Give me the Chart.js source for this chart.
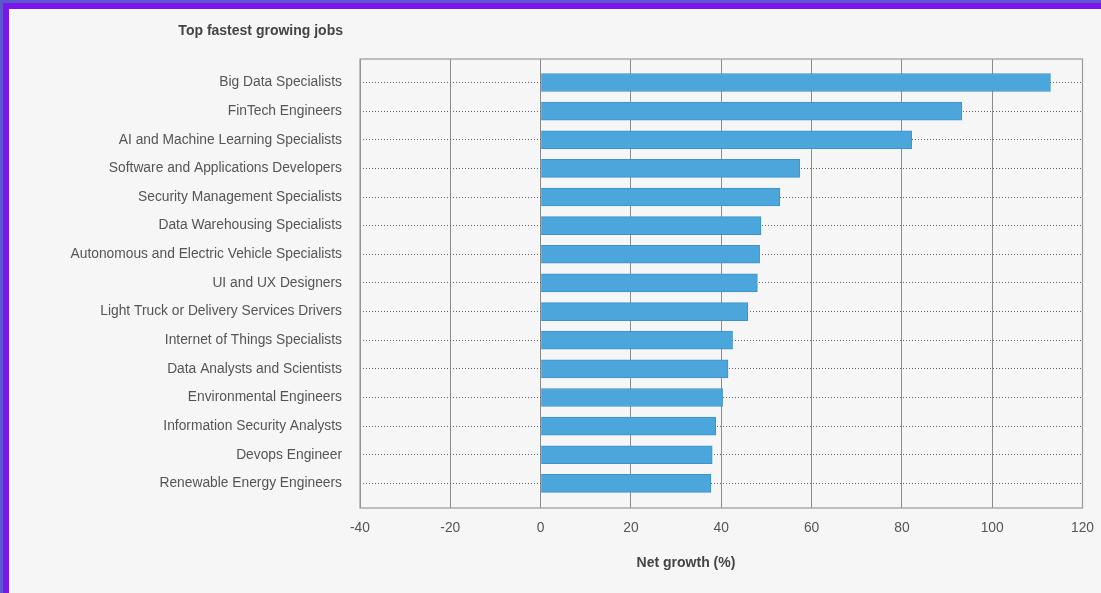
<!DOCTYPE html>
<html>
<head>
<meta charset="utf-8">
<script src="https://cdn.jsdelivr.net/npm/chart.js@4/dist/chart.umd.min.js"></script>
<style>
  html, body { margin: 0; padding: 0; }
  body { width: 1101px; height: 593px; overflow: hidden; background: #5b58cf; position: relative; }
  #frame { position: absolute; left: 3px; top: 3px; right: 0; bottom: 0; background: #7a16e9; }
  #wrap { position: absolute; left: 9px; top: 9px; width: 1092px; height: 584px; background: #f6f6f6; }
  canvas { display: block; }
</style>
</head>
<body>
<div id="frame"></div>
<div id="wrap"><canvas id="c" width="1092" height="584"></canvas></div>
<script>
const chartTitle = 'Top fastest growing jobs';
const xAxisTitle = 'Net growth (%)';
const categories = [
  'Big Data Specialists',
  'FinTech Engineers',
  'AI and Machine Learning Specialists',
  'Software and Applications Developers',
  'Security Management Specialists',
  'Data Warehousing Specialists',
  'Autonomous and Electric Vehicle Specialists',
  'UI and UX Designers',
  'Light Truck or Delivery Services Drivers',
  'Internet of Things Specialists',
  'Data Analysts and Scientists',
  'Environmental Engineers',
  'Information Security Analysts',
  'Devops Engineer',
  'Renewable Energy Engineers'
];
const netGrowth = [112.9, 93.3, 82.2, 57.4, 53.0, 48.8, 48.5, 48.0, 45.9, 42.5, 41.5, 40.3, 38.8, 38.0, 37.7];
const xTicks = [-40, -20, 0, 20, 40, 60, 80, 100, 120];

const FONT = '"Liberation Sans", Arial, Helvetica, sans-serif';

const decor = {
  id: 'decor',
  beforeDatasetsDraw(chart) {
    const {ctx, chartArea: a} = chart;
    ctx.save();
    ctx.strokeStyle = '#9a9a9a';
    ctx.lineWidth = 1.2;
    ctx.strokeRect(a.left, a.top, a.right - a.left, a.bottom - a.top);
    ctx.restore();
  },
  afterDraw(chart) {
    const {ctx, chartArea: a} = chart;
    ctx.save();
    ctx.fillStyle = '#444';
    ctx.font = 'bold 14px ' + FONT;
    ctx.textBaseline = 'middle';
    ctx.textAlign = 'right';
    ctx.fillText(chartTitle, a.left - 17, 22);
    ctx.textAlign = 'center';
    ctx.fillText(xAxisTitle, 677, 554);
    ctx.restore();
  }
};

new Chart(document.getElementById('c'), {
  type: 'bar',
  data: {
    datasets: [{
      data: netGrowth.map((v, i) => ({x: v, y: i})),
      backgroundColor: '#4aa6db',
      borderColor: '#3b93c9',
      borderWidth: 1,
      barThickness: 18
    }]
  },
  options: {
    indexAxis: 'y',
    responsive: false,
    animation: false,
    layout: { padding: { top: 50, right: 18.5, bottom: 0, left: 0 } },
    plugins: { legend: { display: false }, tooltip: { enabled: false }, title: { display: false } },
    scales: {
      x: {
        type: 'linear',
        min: xTicks[0],
        max: xTicks[xTicks.length - 1],
        afterBuildTicks: s => { s.ticks = xTicks.map(v => ({value: v})); },
        afterFit: s => { s.height = 85; s.paddingLeft = 0; s.paddingRight = 0; },
        grid: { color: '#8c8c8c', lineWidth: 1, drawTicks: false },
        border: { display: false },
        ticks: { color: '#555', font: { family: FONT, size: 13.8 }, padding: 12, maxRotation: 0 }
      },
      y: {
        type: 'linear',
        reverse: true,
        offset: false,
        min: -0.82,
        max: categories.length - 1 + 0.86,
        afterBuildTicks: s => { s.ticks = categories.map((_, i) => ({value: i})); },
        afterFit: s => { s.width = 351; s.paddingTop = 0; s.paddingBottom = 0; },
        grid: { color: '#666', lineWidth: 1, drawTicks: false, offset: false },
        border: { display: false, dash: [1, 2] },
        ticks: {
          autoSkip: false,
          color: '#555',
          font: { family: FONT, size: 13.8 },
          padding: 18,
          callback: v => categories[Math.round(v)]
        }
      }
    }
  },
  plugins: [decor]
});
</script>
</body>
</html>
